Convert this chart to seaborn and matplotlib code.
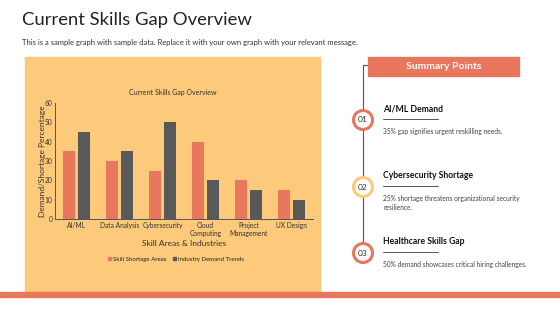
import pandas as pd
import matplotlib
matplotlib.use("Agg")
import matplotlib.pyplot as plt
import matplotlib.patches as mpatches
import seaborn as sns

categories = ["AI/ML", "Data Analysis", "Cybersecurity", "Cloud\nComputing", "Project\nManagement", "UX Design"]
shortage = [35, 30, 25, 40, 20, 15]
demand = [45, 35, 50, 20, 15, 10]
series_names = ["Skill Shortage Areas", "Industry Demand Trends"]

points = ["AI/ML Demand", "Cybersecurity Shortage", "Healthcare Skills Gap"]
point_text = ["35% gap signifies urgent reskilling needs.",
              "25% shortage threatens organizational security\nresilience.",
              "50% demand showcases critical hiring challenges."]
numbers = ["01", "02", "03"]

SALMON = "#E8775E"
GREY = "#595959"
PANEL = "#FDC97A"

sns.set_style("white")
plt.rcParams["font.family"] = ["Lato", "DejaVu Sans"]

df = pd.DataFrame({
    "Skill": categories * 2,
    "Value": shortage + demand,
    "Series": [series_names[0]] * len(categories) + [series_names[1]] * len(categories),
})

W, H = 560, 315
fig = plt.figure(figsize=(W / 100, H / 100), dpi=100)

# background layer in pixel coordinates
bg = fig.add_axes([0, 0, 1, 1])
bg.set_xlim(0, W)
bg.set_ylim(H, 0)
bg.axis("off")

bg.add_patch(mpatches.Rectangle((25, 57), 295, 236, color=PANEL, zorder=0))
bg.add_patch(mpatches.Rectangle((0, 292), W, 5, color=SALMON, zorder=0))

bg.text(22, 20, "Current Skills Gap Overview", fontsize=13.3, color="#222222", va="center")
bg.text(22, 42, "This is a sample graph with sample data. Replace it with your own graph with your relevant message.",
        fontsize=5.5, color="#333333", va="center")

# chart pieces on the panel
bg.text(173, 92, "Current Skills Gap Overview", fontsize=5, color="#333333", ha="center", va="center")
bg.text(42, 161, "Demand/Shortage Percentage", fontsize=6, color="#333333", rotation=90, ha="center", va="center")
bg.text(184, 243, "Skill Areas & Industries", fontsize=6, color="#333333", ha="center", va="center")

# summary side
bg.plot([363, 363], [65, 253], color="#555555", lw=0.8, zorder=1)
bg.plot([363, 368], [65, 65], color="#555555", lw=0.8, zorder=1)
bg.add_patch(mpatches.Rectangle((368, 57), 151, 19, color=SALMON, zorder=2))
bg.text(443.5, 66.5, "Summary Points", fontsize=7.5, color="white", weight="bold", ha="center", va="center")

ring_colors = [SALMON, PANEL, SALMON]
ys = [120, 187, 253]
for num, head, txt, y, rc in zip(numbers, points, point_text, ys, ring_colors):
    bg.add_patch(mpatches.Circle((363, y), 9.5, facecolor="white", edgecolor=rc, lw=2.2, zorder=3))
    bg.text(363, y, num, fontsize=6, color="#333333", ha="center", va="center", zorder=4)
    bg.text(383, y - 11, head, fontsize=6.2, color="#111111", weight="bold", va="center")
    bg.plot([383, 438], [y - 1, y - 1], color="#555555", lw=0.7)
    bg.text(383, y + 8, txt, fontsize=4.8, color="#444444", va="top", linespacing=1.3)

# bar chart
ax = fig.add_axes([55 / W, 1 - 219 / H, (313 - 55) / W, (219 - 103) / H])
ax.patch.set_alpha(0)
sns.barplot(data=df, x="Skill", y="Value", hue="Series", palette=[SALMON, GREY],
            width=0.7, gap=0.25, saturation=1, linewidth=0, ax=ax, legend=False)
ax.set_ylim(0, 60)
ax.set_yticks(range(0, 61, 10))
ax.set_xlabel("")
ax.set_ylabel("")
ax.tick_params(axis="both", labelsize=4.8, colors="#333333", length=0, pad=2)
for s in ["top", "right"]:
    ax.spines[s].set_visible(False)
for s in ["left", "bottom"]:
    ax.spines[s].set_color("#555555")
    ax.spines[s].set_linewidth(0.7)

handles = [mpatches.Patch(color=SALMON, label=series_names[0]),
           mpatches.Patch(color=GREY, label=series_names[1])]
fig.legend(handles=handles, loc="center", bbox_to_anchor=(176 / W, 1 - 259 / H), ncol=2,
           frameon=False, fontsize=4.4, handlelength=0.5, handleheight=0.5, handletextpad=0.3,
           columnspacing=1.2)

fig.savefig("out.png", dpi=100)
